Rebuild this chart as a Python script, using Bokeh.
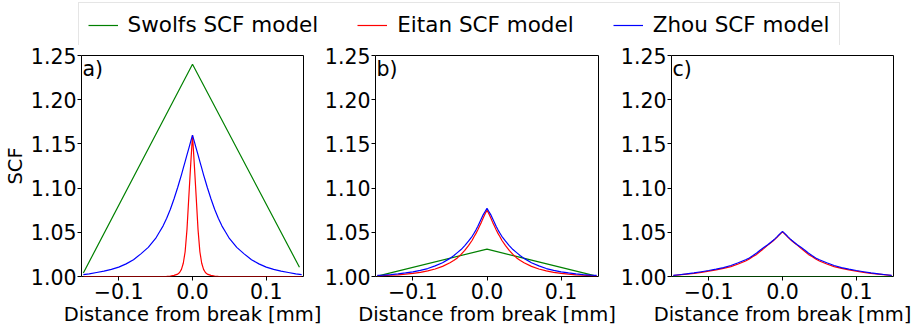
from bokeh.plotting import figure
from bokeh.layouts import column, row
from bokeh.models import Range1d, FixedTicker, Label, Legend, LegendItem
from bokeh.embed import file_html
from bokeh.resources import INLINE

# ---------------- data ----------------
# distance from break [mm], positive half (curves are symmetric about 0)
x_half = [0.0, 0.0025, 0.005, 0.0075, 0.01, 0.0125, 0.015, 0.0175, 0.02, 0.025,
          0.03, 0.035, 0.04, 0.045, 0.05, 0.06, 0.07, 0.08, 0.09, 0.10,
          0.11, 0.12, 0.13, 0.14, 0.148]

# panel a)
zhou_a = [1.160, 1.1525, 1.145, 1.1375, 1.130, 1.1225, 1.115, 1.108, 1.101, 1.088,
          1.076, 1.066, 1.057, 1.050, 1.043, 1.033, 1.0256, 1.019, 1.0143, 1.0106,
          1.008, 1.006, 1.0045, 1.003, 1.0022]
eitan_a = [1.160, 1.126, 1.090, 1.053, 1.028, 1.015, 1.008, 1.0045, 1.0027, 1.0012,
           1.0004, 1.0001, 1.0, 1.0, 1.0, 1.0, 1.0, 1.0, 1.0, 1.0,
           1.0, 1.0, 1.0, 1.0, 1.0]
swolfs_a_x = [-0.148, 0.0, 0.145]
swolfs_a = [1.004, 1.240, 1.0105]

# panel b)
zhou_b = [1.077, 1.0735, 1.070, 1.0655, 1.061, 1.0565, 1.0525, 1.049, 1.0455, 1.040,
          1.035, 1.0305, 1.027, 1.0235, 1.0205, 1.0155, 1.012, 1.009, 1.007, 1.0053,
          1.004, 1.003, 1.0022, 1.0016, 1.0012]
eitan_b = [1.075, 1.071, 1.0665, 1.0615, 1.057, 1.0525, 1.0485, 1.045, 1.041, 1.035,
           1.0295, 1.025, 1.021, 1.018, 1.0155, 1.0115, 1.0085, 1.0063, 1.0047, 1.0035,
           1.0026, 1.0019, 1.0014, 1.001, 1.0008]
swolfs_b_x = [-0.148, 0.0, 0.145]
swolfs_b = [1.0005, 1.031, 1.001]

# panel c)
zhou_c = [1.051, 1.049, 1.047, 1.0448, 1.0428, 1.041, 1.0393, 1.0377, 1.036, 1.033,
          1.030, 1.0265, 1.0237, 1.021, 1.019, 1.0155, 1.0125, 1.010, 1.0083, 1.0068,
          1.0054, 1.004, 1.003, 1.002, 1.0012]
eitan_c = [1.0505, 1.0485, 1.0465, 1.0443, 1.0423, 1.0404, 1.0387, 1.0371, 1.0355, 1.0318,
           1.0285, 1.025, 1.0225, 1.0198, 1.0175, 1.0142, 1.0112, 1.0091, 1.0074, 1.006,
           1.0047, 1.0036, 1.0027, 1.0019, 1.0011]
swolfs_c_x = [-0.148, 0.0, 0.148]
swolfs_c = [1.0, 1.0, 1.0]

panel_tags = ["a)", "b)", "c)"]
series_names = ["Swolfs SCF model", "Eitan SCF model", "Zhou SCF model"]
series_colors = ["#008000", "#ff0000", "#0000ff"]
x_ticks = [-0.1, 0.0, 0.1]
x_tick_labels = ["\u22120.1", "0.0", "0.1"]
y_ticks = [1.00, 1.05, 1.10, 1.15, 1.20, 1.25]
y_tick_labels = ["1.00", "1.05", "1.10", "1.15", "1.20", "1.25"]


def mirror_x(h):
    return [-v for v in reversed(h[1:])] + list(h)


def mirror_y(h):
    return list(reversed(h[1:])) + list(h)


X = mirror_x(x_half)
FONT = "DejaVu Sans"
FS_TICK = "20.5px"
FS_LAB = "19.5px"

panels = [
    (swolfs_a_x, swolfs_a, eitan_a, zhou_a),
    (swolfs_b_x, swolfs_b, eitan_b, zhou_b),
    (swolfs_c_x, swolfs_c, eitan_c, zhou_c),
]
widths = [321, 296, 300]
left_borders = [80, 52, 52]
right_borders = [18, 19, 24]

figs = []
for i, (sx, sy, ey, zy) in enumerate(panels):
    p = figure(width=widths[i], height=284,
               x_range=Range1d(-0.1505, 0.1505), y_range=Range1d(1.0, 1.25),
               output_backend="svg", toolbar_location=None,
               min_border_left=left_borders[i], min_border_right=right_borders[i],
               min_border_top=10, min_border_bottom=53)
    p.xgrid.visible = False
    p.ygrid.visible = False
    p.outline_line_color = "black"
    p.outline_line_width = 1
    p.background_fill_color = "white"
    p.border_fill_color = "white"

    p.line(sx, sy, line_color=series_colors[0], line_width=1.2)
    p.line(X, mirror_y(ey), line_color=series_colors[1], line_width=1.2)
    p.line(X, mirror_y(zy), line_color=series_colors[2], line_width=1.2)

    p.xaxis.ticker = FixedTicker(ticks=x_ticks)
    p.xaxis.major_label_overrides = {t: s for t, s in zip(x_ticks, x_tick_labels)}
    p.yaxis.ticker = FixedTicker(ticks=y_ticks)
    p.yaxis.major_label_overrides = {t: s for t, s in zip(y_ticks, y_tick_labels)}
    for ax in (p.xaxis[0], p.yaxis[0]):
        ax.axis_line_color = None
        ax.minor_tick_line_color = None
        ax.major_tick_in = 0
        ax.major_tick_out = 4
        ax.major_tick_line_color = "black"
        ax.major_label_text_font = FONT
        ax.major_label_text_font_size = FS_TICK
        ax.major_label_text_color = "black"
        ax.major_label_standoff = 1
        ax.axis_label_text_font = FONT
        ax.axis_label_text_font_size = FS_LAB
        ax.axis_label_text_font_style = "normal"
        ax.axis_label_text_color = "black"
    p.xaxis.major_label_standoff = 2
    p.xaxis.axis_label = "Distance from break [mm]"
    p.xaxis.axis_label_standoff = 1
    if i == 0:
        p.yaxis.axis_label = "SCF"
        p.yaxis.axis_label_standoff = 1

    p.add_layout(Label(x=-0.1505, y=1.25, text=panel_tags[i], text_baseline="top",
                       x_offset=1, y_offset=-1, text_font=FONT, text_font_size=FS_TICK,
                       text_color="black"))
    figs.append(p)

# legend strip on top
lf = figure(width=917, height=45, x_range=Range1d(0, 1), y_range=Range1d(0, 1),
            output_backend="svg", toolbar_location=None,
            x_axis_type=None, y_axis_type=None, min_border=0)
lf.xgrid.visible = False
lf.ygrid.visible = False
lf.outline_line_color = None
rs = [lf.line(x=[5, 6], y=[5, 6], line_color=c, line_width=1.2) for c in series_colors]
legend = Legend(items=[LegendItem(label=n, renderers=[r]) for n, r in zip(series_names, rs)],
                orientation="horizontal", location="top_center",
                label_text_font=FONT, label_text_font_size="21.5px", label_text_color="black",
                glyph_width=30, glyph_height=20, label_height=20, label_standoff=10,
                spacing=39, padding=9, margin=2,
                border_line_color="#cccccc", border_line_width=1,
                background_fill_color="white", background_fill_alpha=1)
lf.add_layout(legend, "center")

layout = column(lf, row(*figs, spacing=0), spacing=0)

open("out.html", "w").write(file_html(layout, INLINE))
